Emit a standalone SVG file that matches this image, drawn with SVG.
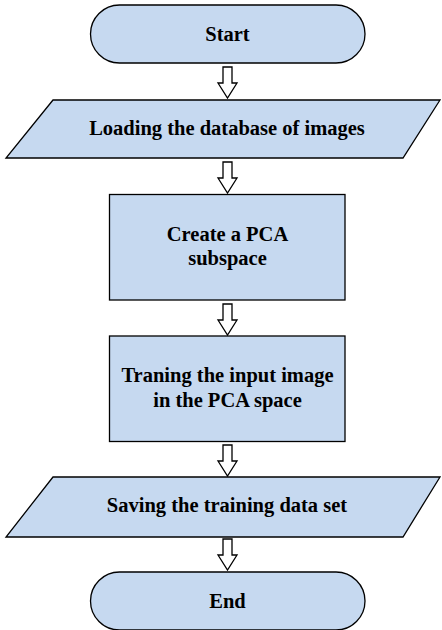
<svg xmlns="http://www.w3.org/2000/svg" width="442" height="630" viewBox="0 0 442 630">
  <defs>
    <style>
      .shape { fill: #c6d9f0; stroke: #000; stroke-width: 1.3; }
      .arrow { fill: #fff; stroke: #000; stroke-width: 1.3; stroke-linejoin: miter; }
      .label { font-family: "Liberation Serif", "Times New Roman", serif; font-weight: bold; font-size: 20.5px; fill: #000; text-anchor: middle; }
    </style>
    <!-- block arrow pointing down, tip at (0,0) -->
    <path id="blockArrow" d="M-4.5,-31 L4.5,-31 L4.5,-15 L9.5,-15 L0,0 L-9.5,-15 L-4.5,-15 Z"/>
  </defs>

  <rect width="442" height="630" fill="#fff"/>

  <g id="connectors">
    <use href="#blockArrow" class="arrow" x="227.5" y="98"/>
    <use href="#blockArrow" class="arrow" x="227.5" y="193"/>
    <use href="#blockArrow" class="arrow" x="227.5" y="335"/>
    <use href="#blockArrow" class="arrow" x="227.5" y="476"/>
    <use href="#blockArrow" class="arrow" x="227.5" y="570"/>
  </g>

  <g id="start">
    <rect class="shape" x="90.5" y="5" width="274.5" height="58" rx="29" ry="29"/>
    <text class="label" x="227.5" y="40.5">Start</text>
  </g>

  <g id="load-database">
    <polygon class="shape" points="53,100 440,100 403,158 6,158"/>
    <text class="label" x="227" y="135">Loading the database of images</text>
  </g>

  <g id="create-pca">
    <rect class="shape" x="109.5" y="194.5" width="235.5" height="105.5"/>
    <text class="label" x="227.5" y="241">Create a PCA</text>
    <text class="label" x="227.5" y="265">subspace</text>
  </g>

  <g id="train-input">
    <rect class="shape" x="109.5" y="336" width="235.5" height="105.5"/>
    <text class="label" x="227.5" y="382">Traning the input image</text>
    <text class="label" x="227.5" y="407">in the PCA space</text>
  </g>

  <g id="save-training">
    <polygon class="shape" points="53,477 440,477 403,537 6,537"/>
    <text class="label" x="227" y="512">Saving the training data set</text>
  </g>

  <g id="end">
    <rect class="shape" x="90.5" y="572" width="274.5" height="58" rx="29" ry="29"/>
    <text class="label" x="227.5" y="607.5">End</text>
  </g>
</svg>
